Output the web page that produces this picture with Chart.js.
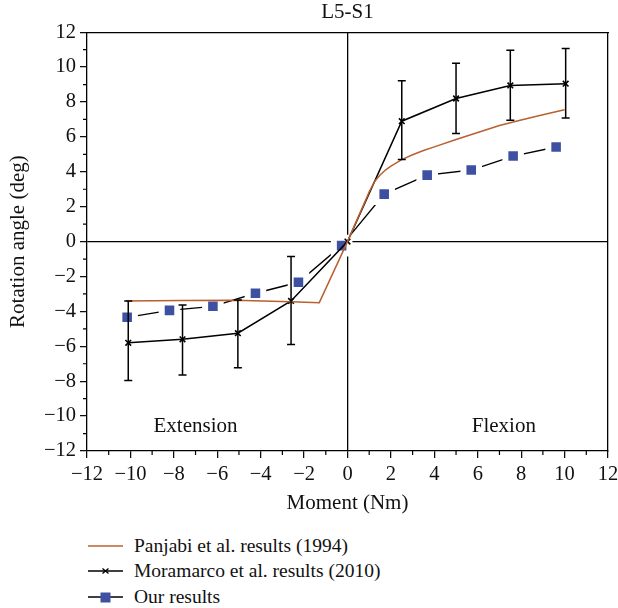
<!DOCTYPE html>
<html>
<head>
<meta charset="utf-8">
<script src="https://cdn.jsdelivr.net/npm/chart.js@4.4.1/dist/chart.umd.min.js"></script>
<style>
  body { margin: 0; background: #fff; }
  #wrap { position: relative; width: 618px; height: 608px; font-family: 'Liberation Serif', serif; color: #111; }
  #chart { position: absolute; left: 0; top: 0; }
  .legend { position: absolute; left: 88px; top: 533px; font-size: 19.5px; }
  .row { display: flex; align-items: center; height: 25.5px; }
  .row svg { margin-right: 11px; }
</style>
</head>
<body>
<div id="wrap">
  <canvas id="chart" width="618" height="525"></canvas>
  <div class="legend">
    <div class="row">
      <svg width="35" height="12"><line x1="0" y1="6" x2="35" y2="6" stroke="#b8602f" stroke-width="1.5"/></svg>
      <span>Panjabi et al. results (1994)</span>
    </div>
    <div class="row">
      <svg width="35" height="12"><line x1="0" y1="6" x2="35" y2="6" stroke="#000" stroke-width="1.5"/>
        <path d="M14.5 3.5 L20.5 8.5 M20.5 3.5 L14.5 8.5" stroke="#000" stroke-width="1.3"/></svg>
      <span>Moramarco et al. results (2010)</span>
    </div>
    <div class="row">
      <svg width="35" height="12"><line x1="0" y1="6" x2="35" y2="6" stroke="#000" stroke-width="1.5"/>
        <rect x="12.5" y="1.5" width="10" height="10" fill="#3e50a2"/></svg>
      <span>Our results</span>
    </div>
  </div>
</div>
<script>
// Panjabi et al. (1994) curve
const panjabiX = [-10.2, -7.7, -5.2, -2.6, -1.3, 0, 1.0, 1.25, 1.5, 1.75, 2, 2.5, 3, 3.5, 4, 5, 6, 7, 8, 9, 10];
const panjabiY = [-3.4, -3.37, -3.36, -3.44, -3.5, 0, 2.85, 3.45, 3.82, 4.1, 4.33, 4.7, 4.98, 5.22, 5.43, 5.85, 6.25, 6.65, 6.97, 7.27, 7.55];

// Moramarco et al. (2010) with error bars
const moraX = [-10.1, -7.6, -5.05, -2.6, 0, 2.5, 5.0, 7.5, 10.05];
const moraY = [-5.8, -5.6, -5.25, -3.4, 0, 6.9, 8.2, 8.95, 9.05];
const moraLow = [-7.96, -7.65, -7.23, -5.89, 0, 4.71, 6.2, 6.95, 7.08];
const moraHigh = [-3.4, -3.63, -3.35, -0.86, 0, 9.22, 10.22, 10.96, 11.06];

// Our results
const oursX = [-10.15, -8.2, -6.2, -4.24, -2.26, -0.27, 1.69, 3.67, 5.7, 7.63, 9.61];
const oursY = [-4.34, -3.94, -3.71, -2.96, -2.33, -0.23, 2.72, 3.81, 4.1, 4.9, 5.42];

const tickValues = [-12, -10, -8, -6, -4, -2, 0, 2, 4, 6, 8, 10, 12];

const serif = "'Liberation Serif', serif";
const orange = '#b8602f';
const blue = '#3e50a2';
const H = 525;

const fmt = v => (v < 0 ? '\u2212' + Math.abs(v) : String(v));
const zeroLine = ctx => (ctx.tick && ctx.tick.value === 0 ? '#000' : 'rgba(0,0,0,0)');

// error bars for Moramarco
const errorBars = {
  id: 'errorBars',
  afterDatasetsDraw(chart) {
    const ctx = chart.ctx;
    const xs = chart.scales.x, ys = chart.scales.y;
    ctx.save();
    ctx.strokeStyle = '#000';
    ctx.lineWidth = 1.5;
    moraX.forEach((x, i) => {
      if (moraLow[i] === moraHigh[i]) return;
      const px = xs.getPixelForValue(x);
      const lo = ys.getPixelForValue(moraLow[i]);
      const hi = ys.getPixelForValue(moraHigh[i]);
      ctx.beginPath();
      ctx.moveTo(px, lo); ctx.lineTo(px, hi);
      ctx.moveTo(px - 4, lo); ctx.lineTo(px + 4, lo);
      ctx.moveTo(px - 4, hi); ctx.lineTo(px + 4, hi);
      ctx.stroke();
    });
    ctx.restore();
  }
};

// minor tick marks and region labels
const extras = {
  id: 'extras',
  afterDraw(chart) {
    const ctx = chart.ctx;
    const xs = chart.scales.x, ys = chart.scales.y;
    const a = chart.chartArea;
    ctx.save();
    ctx.strokeStyle = '#000';
    ctx.lineWidth = 1.2;
    ctx.beginPath();
    for (let v = -11; v <= 11; v += 2) {
      const px = xs.getPixelForValue(v);
      ctx.moveTo(px, a.bottom); ctx.lineTo(px, a.bottom + 4);
      const py = ys.getPixelForValue(v);
      ctx.moveTo(a.left - 4, py); ctx.lineTo(a.left, py);
    }
    ctx.stroke();
    ctx.fillStyle = '#111';
    ctx.font = '21px ' + serif;
    ctx.textAlign = 'center';
    ctx.textBaseline = 'middle';
    ctx.fillText('Extension', xs.getPixelForValue(-7.0), ys.getPixelForValue(-10.6));
    ctx.fillText('Flexion', xs.getPixelForValue(7.2), ys.getPixelForValue(-10.6));
    ctx.restore();
  }
};

const pts = (xs, ys) => xs.map((x, i) => ({ x: x, y: ys[i] }));

new Chart(document.getElementById('chart'), {
  type: 'line',
  data: {
    datasets: [
      {
        label: 'Panjabi et al. results (1994)',
        data: pts(panjabiX, panjabiY),
        borderColor: orange,
        borderWidth: 1.5,
        pointRadius: 0,
        order: 1
      },
      {
        label: 'Moramarco et al. results (2010)',
        data: pts(moraX, moraY),
        borderColor: '#000',
        borderWidth: 1.5,
        pointStyle: 'crossRot',
        pointRadius: 4,
        pointBorderWidth: 1.6,
        pointBorderColor: '#000',
        order: 2
      },
      {
        label: 'Our results',
        data: pts(oursX, oursY),
        borderColor: '#000',
        borderWidth: 1.4,
        pointStyle: 'rect',
        pointRadius: 11,
        pointBackgroundColor: blue,
        pointBorderColor: '#fff',
        pointBorderWidth: 6,
        order: 3
      }
    ]
  },
  options: {
    responsive: false,
    animation: false,
    layout: { padding: 0, autoPadding: false },
    plugins: {
      legend: { display: false },
      tooltip: { enabled: false },
      title: {
        display: true,
        text: 'L5-S1',
        fullSize: false,
        color: '#111',
        font: { family: serif, size: 21, weight: 'normal' },
        padding: { top: 0, bottom: 7 }
      }
    },
    scales: {
      x: {
        type: 'linear',
        position: 'bottom',
        min: -12,
        max: 12,
        afterBuildTicks: s => { s.ticks = tickValues.map(v => ({ value: v })); },
        ticks: { autoSkip: false, maxRotation: 0, padding: 4, color: '#111', font: { family: serif, size: 20.5 }, callback: fmt },
        grid: { color: zeroLine, lineWidth: 1.3, tickColor: '#000', tickLength: 7, tickWidth: 1.2 },
        border: { color: '#000', width: 1.3 },
        title: { display: true, text: 'Moment (Nm)', color: '#111', font: { family: serif, size: 21 }, padding: { top: 0, bottom: 9 } },
        afterFit: s => { s.height = H - 451; s.paddingLeft = 0; s.paddingRight = 0; }
      },
      x2: {
        type: 'linear',
        position: 'top',
        min: -12,
        max: 12,
        ticks: { display: false },
        grid: { display: false },
        border: { color: '#000', width: 1.3 },
        afterFit: s => { s.height = 0; s.paddingLeft = 0; s.paddingRight = 0; }
      },
      y: {
        type: 'linear',
        position: 'left',
        min: -12,
        max: 12,
        afterBuildTicks: s => { s.ticks = tickValues.map(v => ({ value: v })); },
        ticks: { autoSkip: false, padding: 4, color: '#111', font: { family: serif, size: 20.5 }, callback: fmt },
        grid: { color: zeroLine, lineWidth: 1.3, tickColor: '#000', tickLength: 7, tickWidth: 1.2 },
        border: { color: '#000', width: 1.3 },
        title: { display: true, text: 'Rotation angle (deg)', color: '#111', font: { family: serif, size: 21 }, padding: { top: 6, bottom: 0 } },
        afterFit: s => { s.width = 87; s.paddingTop = 0; s.paddingBottom = 0; }
      },
      y2: {
        type: 'linear',
        position: 'right',
        min: -12,
        max: 12,
        ticks: { display: false },
        grid: { display: false },
        border: { color: '#000', width: 1.3 },
        afterFit: s => { s.width = 10; s.paddingTop = 0; s.paddingBottom = 0; }
      }
    }
  },
  plugins: [errorBars, extras]
});
</script>
</body>
</html>
